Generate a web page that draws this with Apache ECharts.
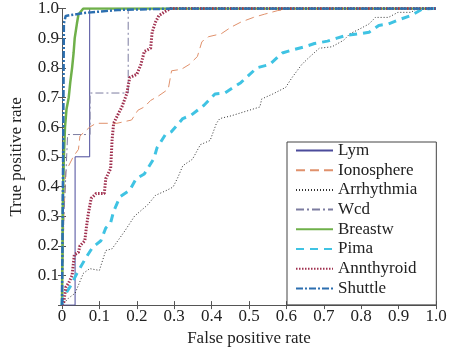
<!DOCTYPE html>
<html>
<head>
<meta charset="utf-8">
<script src="https://cdn.jsdelivr.net/npm/echarts@6/dist/echarts.min.js"></script>
<style>
  html, body { margin: 0; padding: 0; background: #fff; }
  #main { width: 450px; height: 352px; }
</style>
</head>
<body>
<div id="main"></div>
<script>
// tick labels
var xTicks = ['0', '0.1', '0.2', '0.3', '0.4', '0.5', '0.6', '0.7', '0.8', '0.9', '1.0'];
var yTicks = ['', '0.1', '0.2', '0.3', '0.4', '0.5', '0.6', '0.7', '0.8', '0.9', '1.0'];

var seriesNames = ['Lym', 'Ionosphere', 'Arrhythmia', 'Wcd', 'Breastw', 'Pima', 'Annthyroid', 'Shuttle'];

// ROC points [FPR, TPR]
var lym = [[0, 0], [0.035, 0], [0.035, 0.5], [0.074, 0.5], [0.074, 1], [1, 1]];
var ionosphere = [[0, 0], [0.005, 0.3], [0.01, 0.45], [0.03, 0.5], [0.044, 0.525], [0.048, 0.57],
  [0.074, 0.6], [0.091, 0.613], [0.147, 0.613], [0.186, 0.624], [0.203, 0.657], [0.22, 0.668],
  [0.237, 0.69], [0.259, 0.706], [0.284, 0.728], [0.293, 0.79], [0.319, 0.795], [0.34, 0.811],
  [0.362, 0.838], [0.374, 0.888], [0.392, 0.905], [0.426, 0.915], [0.452, 0.937], [0.478, 0.954],
  [0.512, 0.97], [0.542, 0.981], [0.577, 0.993], [0.62, 1], [1, 1]];
var arrhythmia = [[0, 0], [0.018, 0.024], [0.035, 0.04], [0.057, 0.107], [0.074, 0.123], [0.1, 0.117],
  [0.117, 0.184], [0.134, 0.19], [0.168, 0.25], [0.194, 0.3], [0.229, 0.338], [0.25, 0.37],
  [0.28, 0.387], [0.297, 0.398], [0.31, 0.431], [0.323, 0.47], [0.349, 0.492], [0.37, 0.541],
  [0.396, 0.555], [0.413, 0.613], [0.422, 0.629], [0.452, 0.638], [0.529, 0.668], [0.534, 0.695],
  [0.564, 0.712], [0.598, 0.734], [0.615, 0.767], [0.641, 0.811], [0.658, 0.832], [0.688, 0.866],
  [0.722, 0.871], [0.753, 0.893], [0.77, 0.915], [0.796, 0.931], [0.821, 0.948], [0.838, 0.97],
  [0.873, 0.97], [0.898, 0.987], [0.933, 0.987], [0.95, 1], [1, 1]];
var wcd = [[0, 0], [0.005, 0.3], [0.01, 0.43], [0.015, 0.575], [0.075, 0.575], [0.075, 0.715],
  [0.177, 0.715], [0.177, 1], [1, 1]];
var breastw = [[0, 0], [0.002, 0.33], [0.005, 0.5], [0.008, 0.6], [0.012, 0.66], [0.018, 0.7],
  [0.022, 0.75], [0.027, 0.8], [0.031, 0.85], [0.034, 0.9], [0.04, 0.95], [0.044, 0.98],
  [0.057, 1], [1, 1]];
var pima = [[0, 0], [0.001, 0.02], [0.022, 0.063], [0.04, 0.107], [0.065, 0.162], [0.082, 0.195],
  [0.104, 0.217], [0.117, 0.26], [0.13, 0.277], [0.138, 0.316], [0.155, 0.365], [0.181, 0.387],
  [0.198, 0.426], [0.22, 0.442], [0.246, 0.495], [0.254, 0.53], [0.276, 0.574], [0.293, 0.585],
  [0.323, 0.629], [0.345, 0.64], [0.379, 0.673], [0.409, 0.712], [0.435, 0.715], [0.478, 0.75],
  [0.521, 0.8], [0.555, 0.811], [0.589, 0.85], [0.615, 0.86], [0.649, 0.871], [0.675, 0.882],
  [0.71, 0.89], [0.735, 0.9], [0.761, 0.91], [0.796, 0.915], [0.821, 0.92], [0.847, 0.943],
  [0.873, 0.948], [0.907, 0.965], [0.933, 0.976], [0.963, 0.998], [0.99, 1], [1, 1]];
var annthyroid = [[0, 0], [0.005, 0.01], [0.01, 0.06], [0.018, 0.075], [0.027, 0.1], [0.033, 0.17],
  [0.044, 0.178], [0.048, 0.2], [0.061, 0.217], [0.065, 0.26], [0.07, 0.305], [0.078, 0.36],
  [0.091, 0.376], [0.113, 0.376], [0.117, 0.426], [0.13, 0.46], [0.134, 0.558], [0.138, 0.613],
  [0.151, 0.646], [0.16, 0.668], [0.173, 0.712], [0.181, 0.767], [0.2, 0.778], [0.211, 0.811],
  [0.22, 0.855], [0.237, 0.866], [0.241, 0.92], [0.25, 0.954], [0.259, 0.976], [0.276, 0.99],
  [0.29, 1], [1, 1]];
var shuttle = [[0, 0], [0.003, 0.5], [0.005, 0.95], [0.01, 0.975], [0.06, 0.985], [0.15, 0.995],
  [0.3, 1], [1, 1]];

var font = 'Liberation Serif';

function curve(name, data, color, width, dash) {
  return {
    name: name,
    type: 'line',
    data: data,
    symbol: 'none',
    animation: false,
    lineStyle: { color: color, width: width, type: dash },
    itemStyle: { color: color }
  };
}

function tickLabel(list) {
  return function (v) {
    return list[Math.round(v * 10)];
  };
}

var myChart = echarts.init(document.getElementById('main'));
var option = {
  backgroundColor: '#fff',
  textStyle: { fontFamily: font },
  grid: { left: 48, right: 14, top: 6, bottom: 43 },
  legend: {
    orient: 'vertical',
    left: 287,
    top: 142,
    data: seriesNames,
    itemWidth: 37,
    itemHeight: 14,
    itemGap: 2.7,
    padding: [0, 19, 8, 8],
    borderColor: '#444',
    borderWidth: 1,
    backgroundColor: '#fff',
    itemStyle: { opacity: 0 },
    textStyle: { fontFamily: font, fontSize: 17, color: '#222' }
  },
  xAxis: [{
    type: 'value', min: 0, max: 1, interval: 0.1,
    name: 'False positive rate', nameLocation: 'middle', nameGap: 19,
    nameTextStyle: { fontFamily: font, fontSize: 17, color: '#222' },
    axisLine: { lineStyle: { color: '#555' } },
    axisTick: { inside: true, length: 4, lineStyle: { color: '#555' } },
    axisLabel: { formatter: tickLabel(xTicks), fontFamily: font, fontSize: 17, color: '#222', margin: 3 },
    splitLine: { show: false }
  }, {
    type: 'value', min: 0, max: 1, interval: 0.1, position: 'top',
    axisLine: { show: true, lineStyle: { color: '#555' } },
    axisTick: { inside: true, length: 4, lineStyle: { color: '#555' } },
    axisLabel: { show: false },
    splitLine: { show: false }
  }],
  yAxis: [{
    type: 'value', min: 0, max: 1, interval: 0.1,
    name: 'True positive rate', nameLocation: 'middle', nameGap: 37,
    nameTextStyle: { fontFamily: font, fontSize: 17, color: '#222' },
    axisLine: { show: true, lineStyle: { color: '#555' } },
    axisTick: { show: true, inside: true, length: 4, lineStyle: { color: '#555' } },
    axisLabel: { formatter: tickLabel(yTicks), fontFamily: font, fontSize: 17, color: '#222', margin: 3 },
    splitLine: { show: false }
  }, {
    type: 'value', min: 0, max: 1, interval: 0.1, position: 'right',
    axisLine: { show: true, lineStyle: { color: '#555' } },
    axisTick: { show: true, inside: true, length: 4, lineStyle: { color: '#555' } },
    axisLabel: { show: false },
    splitLine: { show: false }
  }],
  series: [
    curve('Lym', lym, '#4b4b9b', 1, 'solid'),
    curve('Ionosphere', ionosphere, '#e0916c', 1, [9, 5]),
    curve('Arrhythmia', arrhythmia, '#333333', 1, [1, 2]),
    curve('Wcd', wcd, '#7c7ca0', 1, [8, 3, 2, 3]),
    curve('Breastw', breastw, '#6fb04a', 2.5, 'solid'),
    curve('Pima', pima, '#3fc3e3', 3, [8, 6]),
    curve('Annthyroid', annthyroid, '#a0304f', 3, [1.5, 1.5]),
    curve('Shuttle', shuttle, '#2c6fb0', 2.5, [7, 2, 2, 2])
  ]
};
myChart.setOption(option);
</script>
</body>
</html>
